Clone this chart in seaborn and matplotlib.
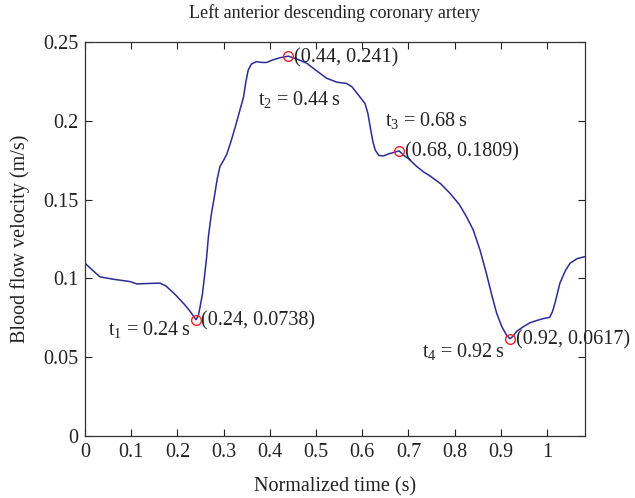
import seaborn as sns
import matplotlib.pyplot as plt
import pandas as pd
import numpy as np

# curve
time_s = [0, 0.015, 0.032, 0.06, 0.097, 0.112, 0.14, 0.162, 0.175, 0.185, 0.196,
          0.206, 0.216, 0.225, 0.233, 0.24, 0.245, 0.249, 0.254, 0.258, 0.263,
          0.267, 0.273, 0.28, 0.286, 0.292, 0.3, 0.307, 0.316, 0.325, 0.334,
          0.343, 0.348, 0.353, 0.36, 0.371, 0.383, 0.393, 0.405, 0.422, 0.44,
          0.46, 0.48, 0.50, 0.523, 0.545, 0.566, 0.578, 0.59, 0.606, 0.612,
          0.618, 0.623, 0.628, 0.636, 0.646, 0.657, 0.667, 0.68, 0.69, 0.70,
          0.718, 0.733, 0.747, 0.77, 0.79, 0.81, 0.826, 0.840, 0.855, 0.869,
          0.88, 0.891, 0.902, 0.9125, 0.92, 0.927, 0.935, 0.949, 0.963, 0.977,
          0.992, 1.006, 1.012, 1.018, 1.028, 1.04, 1.05, 1.065, 1.082]
velocity = [0.1096, 0.1055, 0.101, 0.0995, 0.098, 0.0965, 0.0968, 0.097, 0.0952,
            0.0925, 0.0895, 0.0863, 0.0832, 0.080, 0.0768, 0.0738, 0.076, 0.082,
            0.090, 0.100, 0.113, 0.1265, 0.140, 0.152, 0.163, 0.171, 0.175,
            0.179, 0.187, 0.196, 0.2055, 0.215, 0.2245, 0.232, 0.236, 0.2375,
            0.237, 0.237, 0.2385, 0.240, 0.241, 0.239, 0.2365, 0.232, 0.227,
            0.2245, 0.2237, 0.2215, 0.217, 0.211, 0.205, 0.195, 0.187, 0.1815,
            0.178, 0.1777, 0.179, 0.1798, 0.1809, 0.178, 0.176, 0.171, 0.1675,
            0.165, 0.160, 0.154, 0.147, 0.139, 0.131, 0.118, 0.103, 0.090, 0.078,
            0.0695, 0.064, 0.0617, 0.0635, 0.0665, 0.0694, 0.0718, 0.0732,
            0.0745, 0.0753, 0.079, 0.085, 0.097, 0.105, 0.1096, 0.1125, 0.1138]

# marked points
mark_t = [0.24, 0.44, 0.68, 0.92]
mark_v = [0.0738, 0.241, 0.1809, 0.0617]
mark_names = ["t$_1$ = 0.24$\\,$s", "t$_2$ = 0.44$\\,$s", "t$_3$ = 0.68$\\,$s", "t$_4$ = 0.92$\\,$s"]
# where the t-labels go, in points from the marker
name_offsets = [(-4, -8, "right"), (8, -32, "center"), (-10, 21, "left"), (-4, -10, "right")]

sns.set_style("ticks")
plt.rcParams["font.family"] = ["Liberation Serif", "DejaVu Serif"]
plt.rcParams["mathtext.fontset"] = "custom"
plt.rcParams["mathtext.rm"] = "Liberation Serif"
plt.rcParams["xtick.direction"] = "in"
plt.rcParams["ytick.direction"] = "in"

df = pd.DataFrame({"t": time_s, "v": velocity})

fig = plt.figure(figsize=(6.35, 4.98), dpi=100)
ax = fig.add_axes([0.134, 0.1245, 0.787, 0.7912])

sns.lineplot(data=df, x="t", y="v", sort=False, color="#2b2b96", linewidth=1.1, ax=ax)
ax.plot(mark_t, mark_v, "o", mfc="none", mec="#ee2222", ms=7, mew=1)

fs = 14.5
for t, v, name, (dx, dy, ha) in zip(mark_t, mark_v, mark_names, name_offsets):
    ax.annotate("(%g, %g)" % (t, v), (t, v), xytext=(4, -1), textcoords="offset points",
                ha="left", va="center", fontsize=fs, color="#222222")
    ax.annotate(name, (t, v), xytext=(dx, dy), textcoords="offset points",
                ha=ha, va="center", fontsize=fs, color="#222222")

ax.set_xlim(0, 1.082)
ax.set_ylim(0, 0.25)
ax.set_xticks(np.arange(0, 1.01, 0.1))
ax.set_xticklabels(["0", "0.1", "0.2", "0.3", "0.4", "0.5", "0.6", "0.7", "0.8", "0.9", "1"])
ax.set_yticks([0, 0.05, 0.1, 0.15, 0.2, 0.25])
ax.set_yticklabels(["0", "0.05", "0.1", "0.15", "0.2", "0.25"])
ax.tick_params(top=True, right=True, labelsize=fs, length=5, width=0.8, pad=5, colors="#222222")
for s in ax.spines.values():
    s.set_linewidth(0.9)
    s.set_color("#333333")

ax.set_xlabel("Normalized time (s)", fontsize=fs, color="#222222", labelpad=11)
ax.set_ylabel("Blood flow velocity (m/s)", fontsize=fs, color="#222222", labelpad=9)
ax.set_title("Left anterior descending coronary artery", fontsize=13, color="#222222", pad=17)

fig.savefig("out.png", dpi=100)
